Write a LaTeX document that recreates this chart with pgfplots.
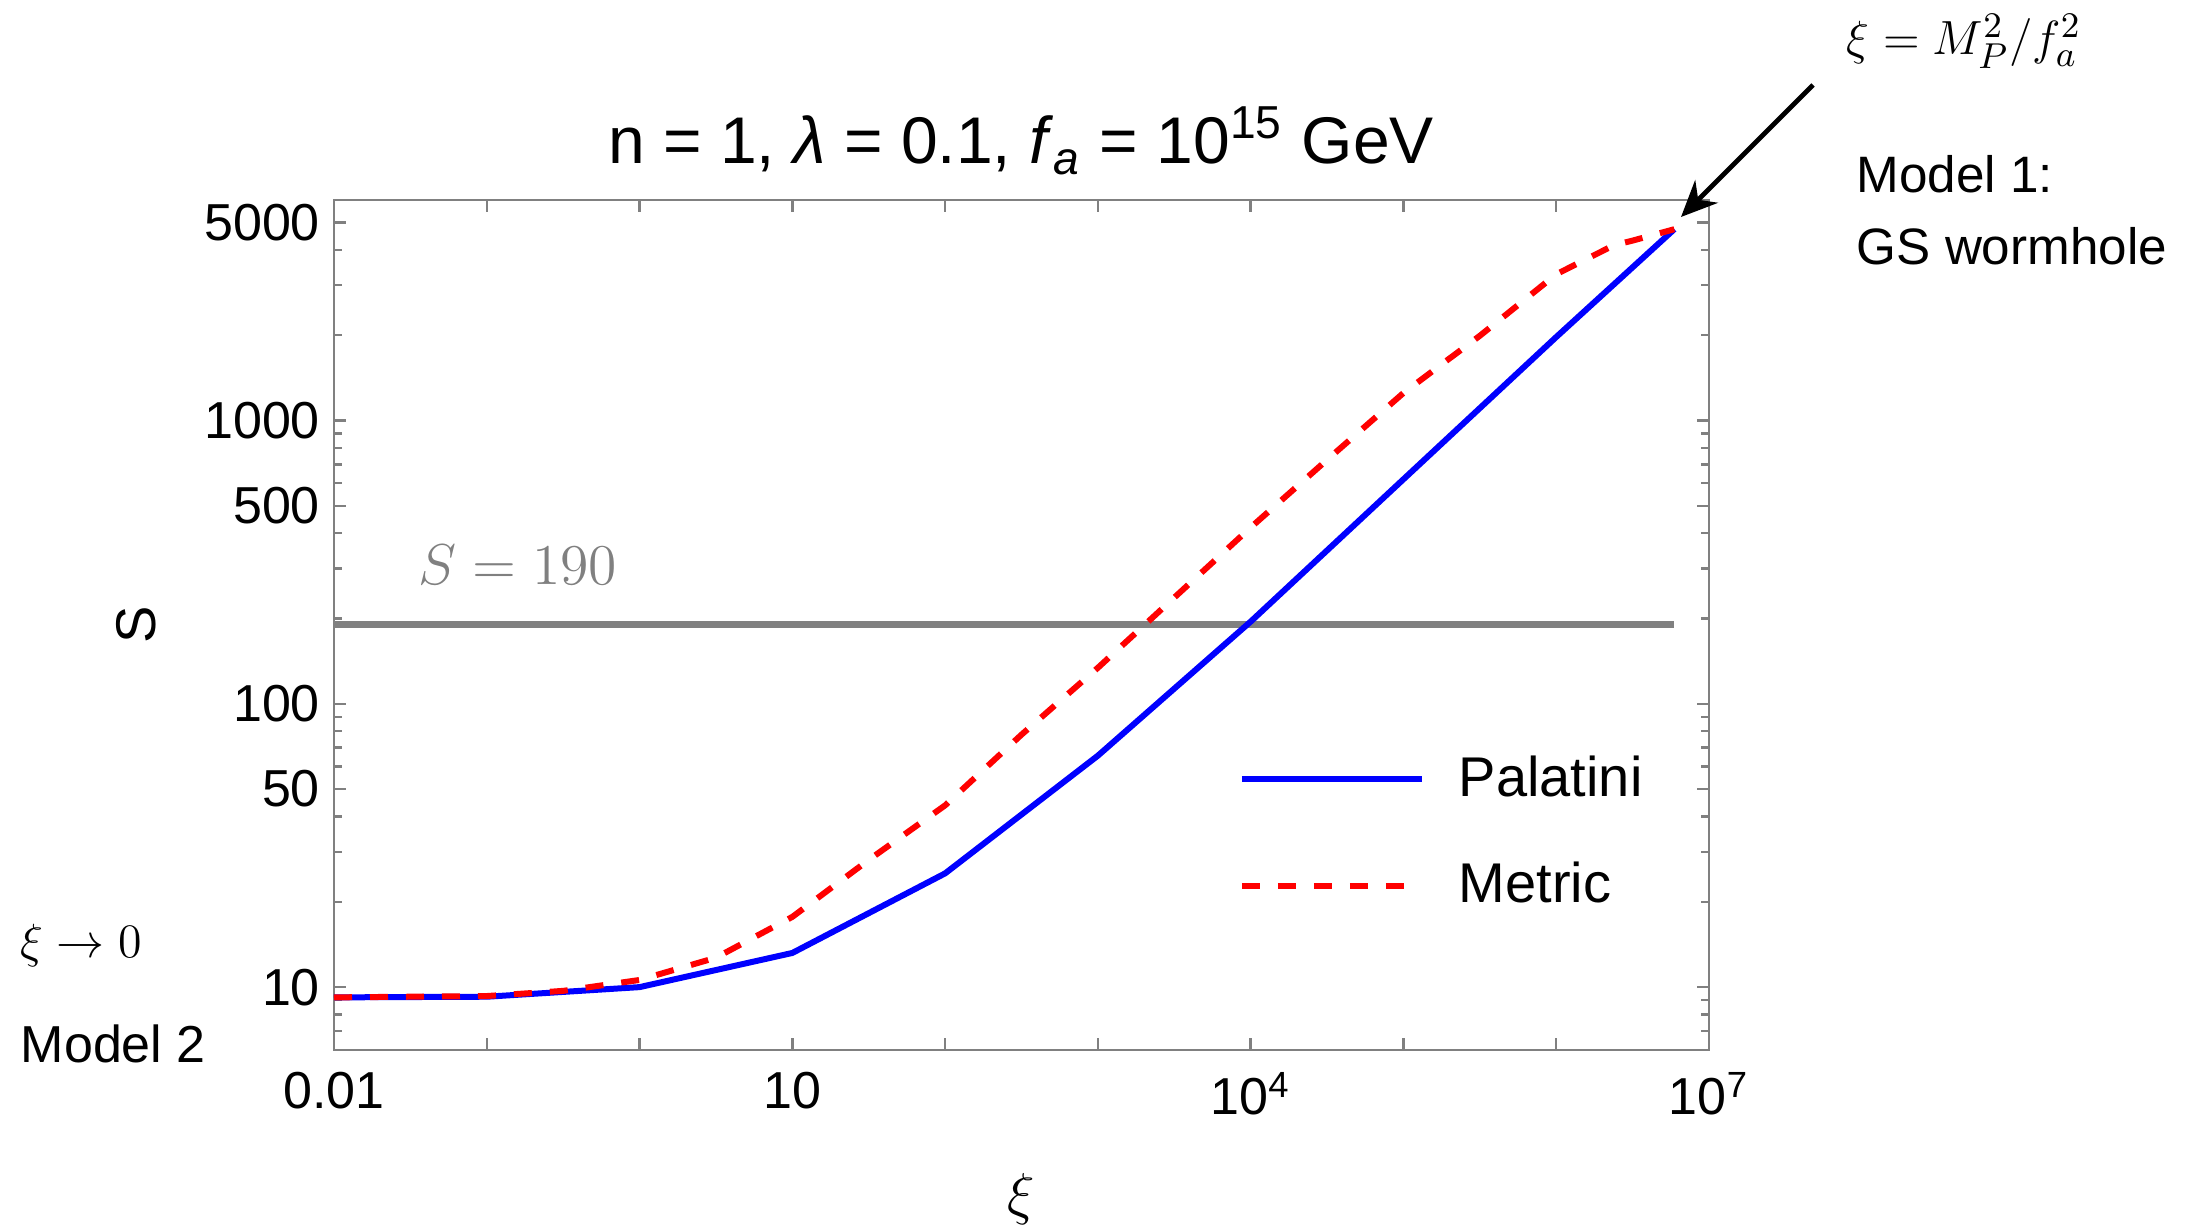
\documentclass[border=0pt]{standalone}
\usepackage{fontspec}
\setmainfont{Liberation Sans}
\usepackage{pgfplots}
\pgfplotsset{compat=1.18}
\usetikzlibrary{arrows.meta}
\definecolor{frame}{gray}{0.5}
\definecolor{pblue}{rgb}{0,0,1}
\definecolor{mred}{rgb}{1,0,0}
\begin{document}
\begin{tikzpicture}
\path[use as bounding box] (0,0) rectangle (550.75pt,306.75pt);
\begin{axis}[
  at={(83.5pt,44.25pt)}, anchor=south west,
  scale only axis, width=343.75pt, height=212.5pt,
  xmode=log, ymode=log,
  xmin=0.01, xmax=1e7, ymin=6, ymax=6000,
  axis line style={frame, line width=0.7pt},
  tick align=inside,
  major tick length=3pt, minor tick length=2pt,
  every tick/.style={frame, line width=0.6pt},
  xtick={0.01,0.1,1,10,100,1000,1e4,1e5,1e6,1e7},
  xticklabels={0.01,{},{},10,{},{},10\textsuperscript{4},{},{},10\textsuperscript{7}},
  xminorticks=false,
  ytick={10,50,100,500,1000,5000},
  yticklabels={10,50,100,500,1000,5000},
  minor ytick={7,8,9,20,30,40,60,70,80,90,200,300,400,600,700,800,900,2000,3000,4000},
  /pgf/number format/assume math mode=true,
  ticklabel style={font=\fontsize{13}{15}\selectfont, text=black},
  xticklabel style={yshift=-2pt},
  legend style={draw=none, fill=none, at={(0.6575,0.347)}, anchor=north west,
    font=\fontsize{14}{16}\selectfont, inner sep=0pt, row sep=15pt,
    nodes={inner sep=0pt}},
  legend cell align=left,
  legend image code/.code={\draw[#1] (0pt,0pt) -- (45pt,0pt);},
]
\addplot[frame, line width=1.7pt, forget plot] coordinates {(0.01,190) (5.93e6,190)};
\addplot[pblue, line width=1.5pt] coordinates {
 (0.01,9.2) (0.1,9.25) (1,10.0) (10,13.2) (100,25.2) (1000,65.6)
 (1e4,195) (1e5,620) (1e6,1970) (5.93e6,4730)};
\addlegendentry{\hspace{8.5pt}Palatini}
\addplot[mred, line width=1.5pt, dash pattern=on 4.5pt off 4.5pt] coordinates {
 (0.01,9.2) (0.1,9.3) (0.316,9.7) (1,10.6) (3.16,12.7) (10,17.7) (31.6,28.1)
 (100,43.8) (316,77.8) (1000,134) (3162,237) (1e4,419) (31623,726)
 (1e5,1250) (316228,1990) (1e6,3280) (2.4e6,4160) (3.1e6,4300) (5.93e6,4730)};
\addlegendentry{\hspace{8.5pt}Metric}
\end{axis}
% title
\node[anchor=base, inner sep=0pt, font=\fontsize{16.5}{19}\selectfont] at (255.25pt,265.75pt)
  {n = 1, \textit{λ} = 0.1, \textit{f}\textsubscript{\textit{a}} = 10\textsuperscript{15} GeV};
% axis labels
\node[rotate=90, inner sep=0pt, font=\fontsize{14}{16}\selectfont] at (34pt,150.5pt) {S};
\node[inner sep=0pt, font=\fontsize{15}{17}\selectfont] at (255.25pt,7pt) {$\xi$};
% S=190 annotation
\node[anchor=base west, inner sep=0pt, text=frame, font=\fontsize{14}{16}\selectfont] at (104.5pt,160.5pt) {$S = 190$};
% top-right annotation
\node[anchor=base west, inner sep=0pt, font=\fontsize{13}{15}\selectfont] at (461.5pt,293pt) {$\xi = M_P^2/f_a^2$};
\node[anchor=base west, inner sep=0pt, font=\fontsize{12.8}{15}\selectfont] at (464pt,258.5pt) {Model 1:};
\node[anchor=base west, inner sep=0pt, font=\fontsize{12.8}{15}\selectfont] at (464pt,240.5pt) {GS wormhole};
\draw[line width=1.2pt, -{Stealth[length=9pt,width=8pt]}] (453.25pt,285.5pt) -- (420.25pt,252.5pt);
% bottom-left annotation
\node[anchor=base west, inner sep=0pt, font=\fontsize{13}{15}\selectfont] at (5pt,67.25pt) {$\xi \rightarrow 0$};
\node[anchor=base west, inner sep=0pt, font=\fontsize{13}{15}\selectfont] at (5pt,41pt) {Model 2};
\end{tikzpicture}
\end{document}
